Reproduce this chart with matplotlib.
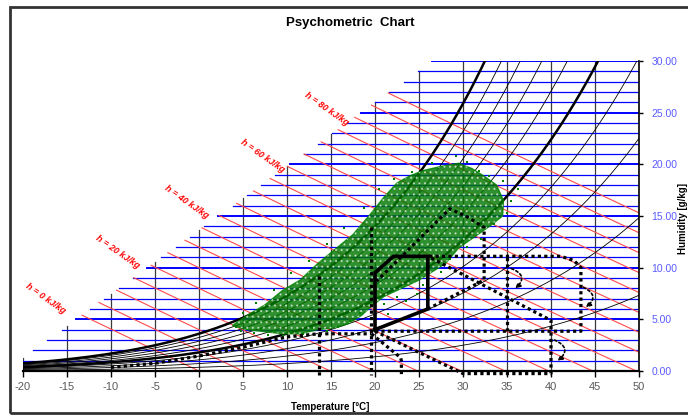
import numpy as np
import matplotlib.pyplot as plt
from matplotlib.patches import Polygon, Rectangle
from matplotlib.ticker import FormatStrFormatter

plt.rcParams['font.family'] = ['Liberation Sans', 'DejaVu Sans']
plt.rcParams['axes.unicode_minus'] = False
plt.rcParams['hatch.linewidth'] = 0.8

# chart grid
temps = list(range(-20, 55, 5))          # isotherms [C]
hum_levels = list(range(1, 31))          # horizontal lines [g/kg]
enthalpies = list(range(0, 95, 5))       # kJ/kg
rh_levels = [0.1, 0.2, 0.3, 0.4, 0.5, 0.6, 0.7, 0.8, 0.9, 1.0]
rh_thick = [0.5, 1.0]
pressure = 106.0                         # kPa, matched to the curves by eye

# left edge where the grid lines stop
edge_T = [-22.1, 26.5]
edge_w = [0.0, 30.0]

h_labels = [0, 20, 40, 60, 80]
h_label_T = [-17.4, -9.2, -1.4, 7.2, 14.5]
h_label_w = [7.0, 11.5, 16.4, 20.8, 25.4]

# measured data cloud (outline) + loose points around it
cloud_T = [3.8, 5.5, 7.5, 9.5, 11.5, 13.5, 15.5, 17.5, 19.5, 21.0, 22.5, 24.0, 25.5, 27.5,
           29.5, 31.0, 32.5, 33.8, 34.6, 34.5, 33.0, 31.5, 29.5, 28.0, 26.5, 25.0, 23.0,
           21.0, 19.5, 18.5, 17.0, 15.5, 13.5, 11.5, 9.5, 7.5, 5.5]
cloud_w = [4.4, 5.4, 6.4, 7.8, 8.8, 10.4, 11.8, 13.2, 15.2, 16.8, 18.2, 18.9, 19.4, 19.8,
           20.1, 19.6, 18.8, 18.0, 16.5, 15.0, 14.0, 13.1, 11.9, 10.4, 9.6, 8.8, 8.0,
           7.2, 6.2, 5.4, 4.6, 4.2, 4.0, 3.6, 3.6, 3.8, 4.0]
pts_T = [4.2, 4.8, 5.5, 6.2, 7.0, 7.8, 8.5, 9.5, 10.5, 11.8, 12.8, 14.5, 15.8, 17.2, 18.3,
         21.0, 22.5, 23.5, 24.8, 21.5, 25.5, 20.8, 27.5, 28.5, 30.5, 32.0, 33.5, 35.0, 35.5,
         36.2, 34.5, 30.5, 29.2, 31.8, 33.0, 26.5, 24.2, 22.2, 20.5, 18.8, 16.5, 14.5, 12.5,
         10.5, 8.5, 6.5, 5.0]
pts_w = [4.3, 3.9, 4.7, 3.7, 4.1, 3.5, 3.9, 3.4, 3.8, 3.6, 4.2, 3.9, 4.3, 4.8, 5.6,
         6.5, 7.2, 6.8, 7.5, 5.5, 8.3, 7.8, 9.6, 10.8, 12.0, 12.8, 14.2, 15.3, 16.5,
         17.6, 18.4, 20.2, 20.8, 19.4, 18.9, 20.1, 19.3, 18.6, 17.6, 15.8, 13.8, 12.3, 10.6,
         9.5, 7.8, 6.6, 5.6]

# comfort zone (solid)
comfort_T = [20, 20, 22.1, 26, 26, 20]
comfort_w = [4.0, 9.5, 11.1, 11.1, 6.0, 4.0]

# dotted zone outlines
low_T = [-10, -5, 0, 5, 10, 13.6, 19.6]
low_w = [0.35, 0.75, 1.45, 2.3, 3.3, 3.6, 3.6]
v1_T = [13.6, 13.6]
v1_w = [9.2, -0.4]
v2_T = [19.6, 19.6]
v2_w = [13.9, -0.4]
drop_T = [19.6, 22.9, 23.0, 23.0]
drop_w = [3.6, 1.3, 1.0, -0.3]
warm_T = [20, 30, 40, 40, 26]
warm_w = [3.85, -0.25, -0.25, 4.9, 11.1]
box_T = [20, 43.4, 43.4, 42.6, 41.1, 26]
box_w = [3.85, 3.85, 10.0, 10.7, 11.1, 11.1]
mid_T = [35, 35]
mid_w = [3.85, 11.1]
hum_T = [26, 32.4, 32.4, 30.5, 28.5, 20.2]
hum_w = [6.0, 8.8, 13.9, 14.9, 15.7, 8.7]

# little circular arrows: start and end points
arr_start = [(35.2, 10.0), (43.4, 8.2), (40.1, 3.1)]
arr_end = [(35.7, 7.8), (43.7, 6.0), (40.5, 0.8)]


def w_of(T, rh=1.0):
    ps = 0.6112 * np.exp(17.62 * T / (243.12 + T))
    pv = rh * ps
    return 622 * pv / (pressure - pv)


def edge_at_w(w):
    return np.interp(w, edge_w, edge_T)


fig = plt.figure(figsize=(6.88, 4.15), dpi=100)
ax = fig.add_axes([23 / 688, 44 / 415, 616 / 688, 310 / 415])
ax.set_xlim(-20, 50)
ax.set_ylim(0, 30)

# isotherms
for t in temps:
    top = min(30, np.interp(t, edge_T, edge_w, right=30))
    ax.plot([t, t], [0, top], color='#3a3a3a', lw=0.9, zorder=1)

# humidity lines
for w in hum_levels:
    ax.plot([edge_at_w(w), 50], [w, w], color='#0000ff',
            lw=1.4 if w % 5 == 0 else 0.9, zorder=1)

# enthalpy lines
ww = np.linspace(0, 30, 1201)
for h in enthalpies:
    tt = (h - 2.501 * ww) / (1.006 + 0.00186 * ww)
    keep = tt >= edge_at_w(ww)
    ax.plot(tt[keep], ww[keep], color='#ff4a4a', lw=0.8, zorder=1)

for h, t, w in zip(h_labels, h_label_T, h_label_w):
    ax.text(t, w, 'h = %d kJ/kg' % h, rotation=-35, color='red', fontsize=6.5,
            fontweight='bold', style='italic', ha='center', va='center',
            rotation_mode='anchor', zorder=6)

# relative humidity curves
tt = np.linspace(-20, 50, 400)
for rh in rh_levels:
    thick = rh in rh_thick
    ax.plot(tt, w_of(tt, rh), color='k', lw=1.8 if thick else 0.6, zorder=2)

# data cloud
cloud_xy = np.column_stack([cloud_T, cloud_w])
ax.add_patch(Polygon(cloud_xy, closed=True, fc='#007800', ec='#008000',
                     alpha=0.82, lw=1, zorder=3))
ax.add_patch(Polygon(cloud_xy, closed=True, fill=False, ec='#ffffff', lw=0,
                     hatch='...', alpha=0.55, zorder=3))
ax.scatter(pts_T, pts_w, s=3, marker='s', color='green', lw=0, zorder=3)

# zones
dot = dict(color='k', lw=2.3, ls=(0, (1, 1)), zorder=4, clip_on=False)
for xs, ys in [(low_T, low_w), (v1_T, v1_w), (v2_T, v2_w), (drop_T, drop_w),
               (warm_T, warm_w), (box_T, box_w), (mid_T, mid_w), (hum_T, hum_w)]:
    ax.plot(xs, ys, **dot)
ax.plot(comfort_T, comfort_w, color='k', lw=2.6, zorder=5, solid_joinstyle='miter')

for s, e in zip(arr_start, arr_end):
    ax.annotate('', xy=e, xytext=s, zorder=4,
                arrowprops=dict(arrowstyle='-|>', connectionstyle='arc3,rad=-0.9',
                                ls=(0, (1.5, 1.5)), lw=1.2, color='k', mutation_scale=7))

# axes styling
for side in ['left', 'top']:
    ax.spines[side].set_visible(False)
ax.spines['bottom'].set_linewidth(1.6)
ax.spines['right'].set_linewidth(1.2)
ax.yaxis.tick_right()
ax.set_xticks(temps)
ax.set_yticks([0, 5, 10, 15, 20, 25, 30])
ax.yaxis.set_major_formatter(FormatStrFormatter('%.2f'))
ax.tick_params(axis='x', direction='out', length=4, width=1, labelsize=8,
               labelcolor='#595959', pad=4)
ax.tick_params(axis='y', direction='out', length=3, width=1, labelsize=7.5,
               labelcolor='#5a5aff', pad=6)

fig.text(350 / 688, 1 - 23 / 415, 'Psychometric  Chart', ha='center', va='center',
         fontsize=9.5, fontweight='bold')
fig.text(330 / 688, 1 - 407 / 415, 'Temperature [°C]', ha='center', va='center',
         fontsize=7, fontweight='bold')
fig.text(683 / 688, 1 - 218 / 415, 'Humidity [g/kg]', ha='center', va='center',
         fontsize=7, fontweight='bold', rotation=90)

fig.add_artist(Rectangle((10 / 688, 2 / 415), 1.0, 406 / 415, transform=fig.transFigure,
                         fill=False, lw=2, ec='#333333'))

fig.savefig('out.png', dpi=100)
